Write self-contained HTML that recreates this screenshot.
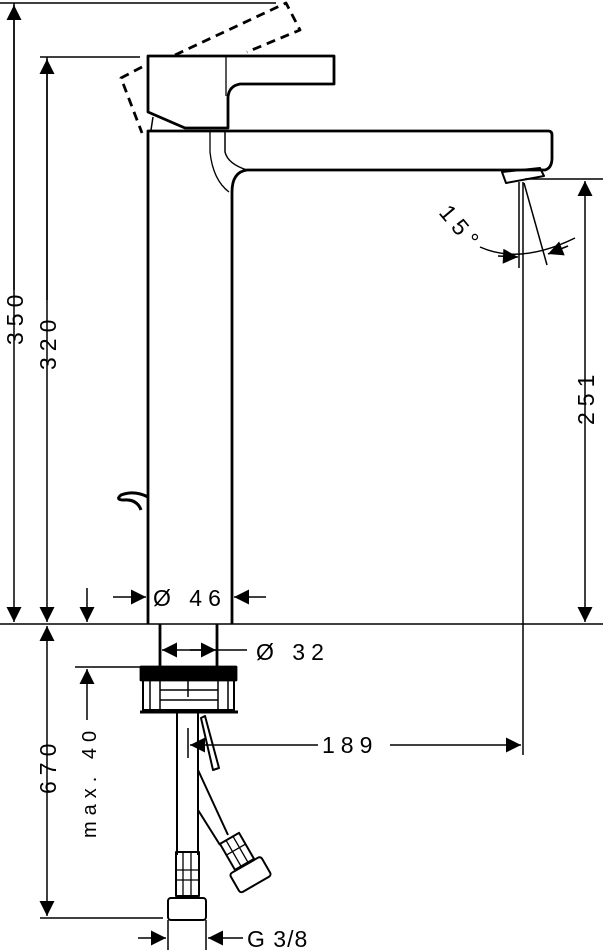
<!DOCTYPE html>
<html><head><meta charset="utf-8"><style>
html,body{margin:0;padding:0;background:#fff;width:603px;height:950px;overflow:hidden}
svg{display:block}
text{font-family:"Liberation Sans",sans-serif;font-size:23px;fill:#000;letter-spacing:6px}
</style></head><body>
<svg width="603" height="950" viewBox="0 0 603 950" xmlns="http://www.w3.org/2000/svg">
<defs>
<marker id="a" viewBox="0 0 10 10" refX="10" refY="5" markerWidth="20" markerHeight="15" markerUnits="userSpaceOnUse" orient="auto"><path d="M0,0 L10,5 L0,10 z" fill="#000"/></marker>
</defs>
<g stroke="#000" fill="none" stroke-width="1.5">
<line x1="0" y1="3" x2="276" y2="3"/>
<line x1="40" y1="57" x2="140" y2="57"/>
<line x1="0" y1="624" x2="603" y2="624"/>
<line x1="525" y1="179" x2="603" y2="179"/>
<line x1="75" y1="667" x2="140" y2="667"/>
<line x1="40" y1="918" x2="163" y2="918"/>
<line x1="14" y1="3" x2="14" y2="622" marker-end="url(#a)"/>
<line x1="14" y1="290" x2="14" y2="5" marker-end="url(#a)"/>
<line x1="47" y1="57" x2="47" y2="622" marker-end="url(#a)"/>
<line x1="47" y1="300" x2="47" y2="59" marker-end="url(#a)"/>
<line x1="47" y1="720" x2="47" y2="626" marker-end="url(#a)"/>
<line x1="47" y1="720" x2="47" y2="916" marker-end="url(#a)"/>
<line x1="585" y1="380" x2="585" y2="181" marker-end="url(#a)"/>
<line x1="585" y1="380" x2="585" y2="622" marker-end="url(#a)"/>
<line x1="87" y1="588" x2="87" y2="622" marker-end="url(#a)"/>
<line x1="87" y1="720" x2="87" y2="669" marker-end="url(#a)"/>
<line x1="113" y1="597" x2="146" y2="597" marker-end="url(#a)"/>
<line x1="266" y1="597" x2="234" y2="597" marker-end="url(#a)"/>
<line x1="190" y1="650" x2="162" y2="650" marker-end="url(#a)"/>
<line x1="190" y1="650" x2="247" y2="650"/>
<line x1="190" y1="650" x2="216" y2="650" marker-end="url(#a)"/>
<line x1="318" y1="745" x2="190" y2="745" marker-end="url(#a)"/>
<line x1="390" y1="745" x2="521" y2="745" marker-end="url(#a)"/>
<line x1="188" y1="728" x2="188" y2="758"/>
<line x1="138" y1="938" x2="166" y2="938" marker-end="url(#a)"/>
<line x1="243" y1="938" x2="208" y2="938" marker-end="url(#a)"/>
<line x1="168" y1="920" x2="168" y2="950"/>
<line x1="206" y1="920" x2="206" y2="950"/>
<line x1="519" y1="182" x2="519" y2="268"/>
<line x1="523" y1="182" x2="523" y2="755"/>
<line x1="524" y1="183" x2="547" y2="265"/>
<path d="M480,247 Q520,265 575,238"/>
<line x1="498" y1="256" x2="518" y2="257" marker-end="url(#a)"/>
<line x1="568" y1="246" x2="548" y2="254" marker-end="url(#a)"/>
</g>
<g stroke="#000" fill="none" stroke-width="2.8" stroke-linejoin="round">
<path d="M148,624 L148,131 L548,131 Q552,131 552,135 L552,158 Q552,168 545,170 L247,170 Q232,172 232,192 L232,624"/>
<path d="M225,131 L225,152 Q228,164 247,170" stroke-width="1.5"/>
<path d="M210,131 L210,152 Q213,180 229,192" stroke-width="1.3"/>
<path d="M502,172 L540,168 L544,176 L506,183 Z" stroke-width="2"/>
<path d="M148,112 L148,56 L334,56 L334,84 L240,84 Q229,86 228,97 L228,128 L185,128 Z"/>
<line x1="226" y1="57" x2="226" y2="96" stroke-width="1.3"/>
<line x1="153" y1="117" x2="151" y2="130" stroke-width="1.5"/>
<path d="M142,67 L121,78 L142,133 M175,55 L286,3 L300,30 L247,52" stroke-dasharray="9,6"/>
<path d="M148,497 Q134,490 121,495 Q115,500 124,500 Q137,499 141,510" stroke-width="3"/>
<path d="M160,624 L160,667 M217,624 L217,667"/>
<rect x="141" y="667" width="95" height="13" fill="#000"/>
<rect x="143" y="680" width="91" height="30" stroke-width="2"/>
<path d="M150,680 L150,710 M228,680 L228,710 M160,690 L218,690 M160,700 L218,700 M188,680 L188,697 M160,680 L160,710 M218,680 L218,710" stroke-width="1.5"/>
<path d="M140,712 L238,712" stroke-width="3"/>
<path d="M177,712 L177,855 M198,712 L198,855" stroke-width="2"/>
<rect x="176" y="852" width="23" height="44" stroke-width="2"/>
<path d="M183,852 L183,896 M191,852 L191,896 M176,870 L199,870 M176,880 L199,880" stroke-width="1.3"/>
<rect x="168" y="898" width="38" height="22" rx="3" stroke-width="2"/>
<path d="M198,770 L228,835 M198,810 L220,845" stroke-width="2"/>
<path d="M205,716 L219,768 L213,770 L201,718 Z" stroke-width="2"/>
<g transform="translate(242,860) rotate(-30)">
<rect x="-11" y="-25" width="22" height="30" stroke-width="2"/>
<path d="M-4,-25 L-4,5 M4,-25 L4,5 M-11,-12 L11,-12" stroke-width="1.3"/>
<rect x="-18" y="6" width="36" height="22" rx="3" stroke-width="2"/>
</g>
</g>
<text transform="translate(23,345) rotate(-90)">350</text>
<text transform="translate(56,370) rotate(-90)">320</text>
<text transform="translate(56,794) rotate(-90)">670</text>
<text transform="translate(96,838) rotate(-90)" style="font-size:20px">max. 40</text>
<text transform="translate(594,425) rotate(-90)">251</text>
<text transform="translate(438,213) rotate(50)">15°</text>
<text x="153" y="606">Ø 46</text>
<text x="256" y="660">Ø 32</text>
<text x="322" y="753">189</text>
<text x="247" y="947" style="letter-spacing:1px">G 3/8</text>
</svg>
</body></html>
